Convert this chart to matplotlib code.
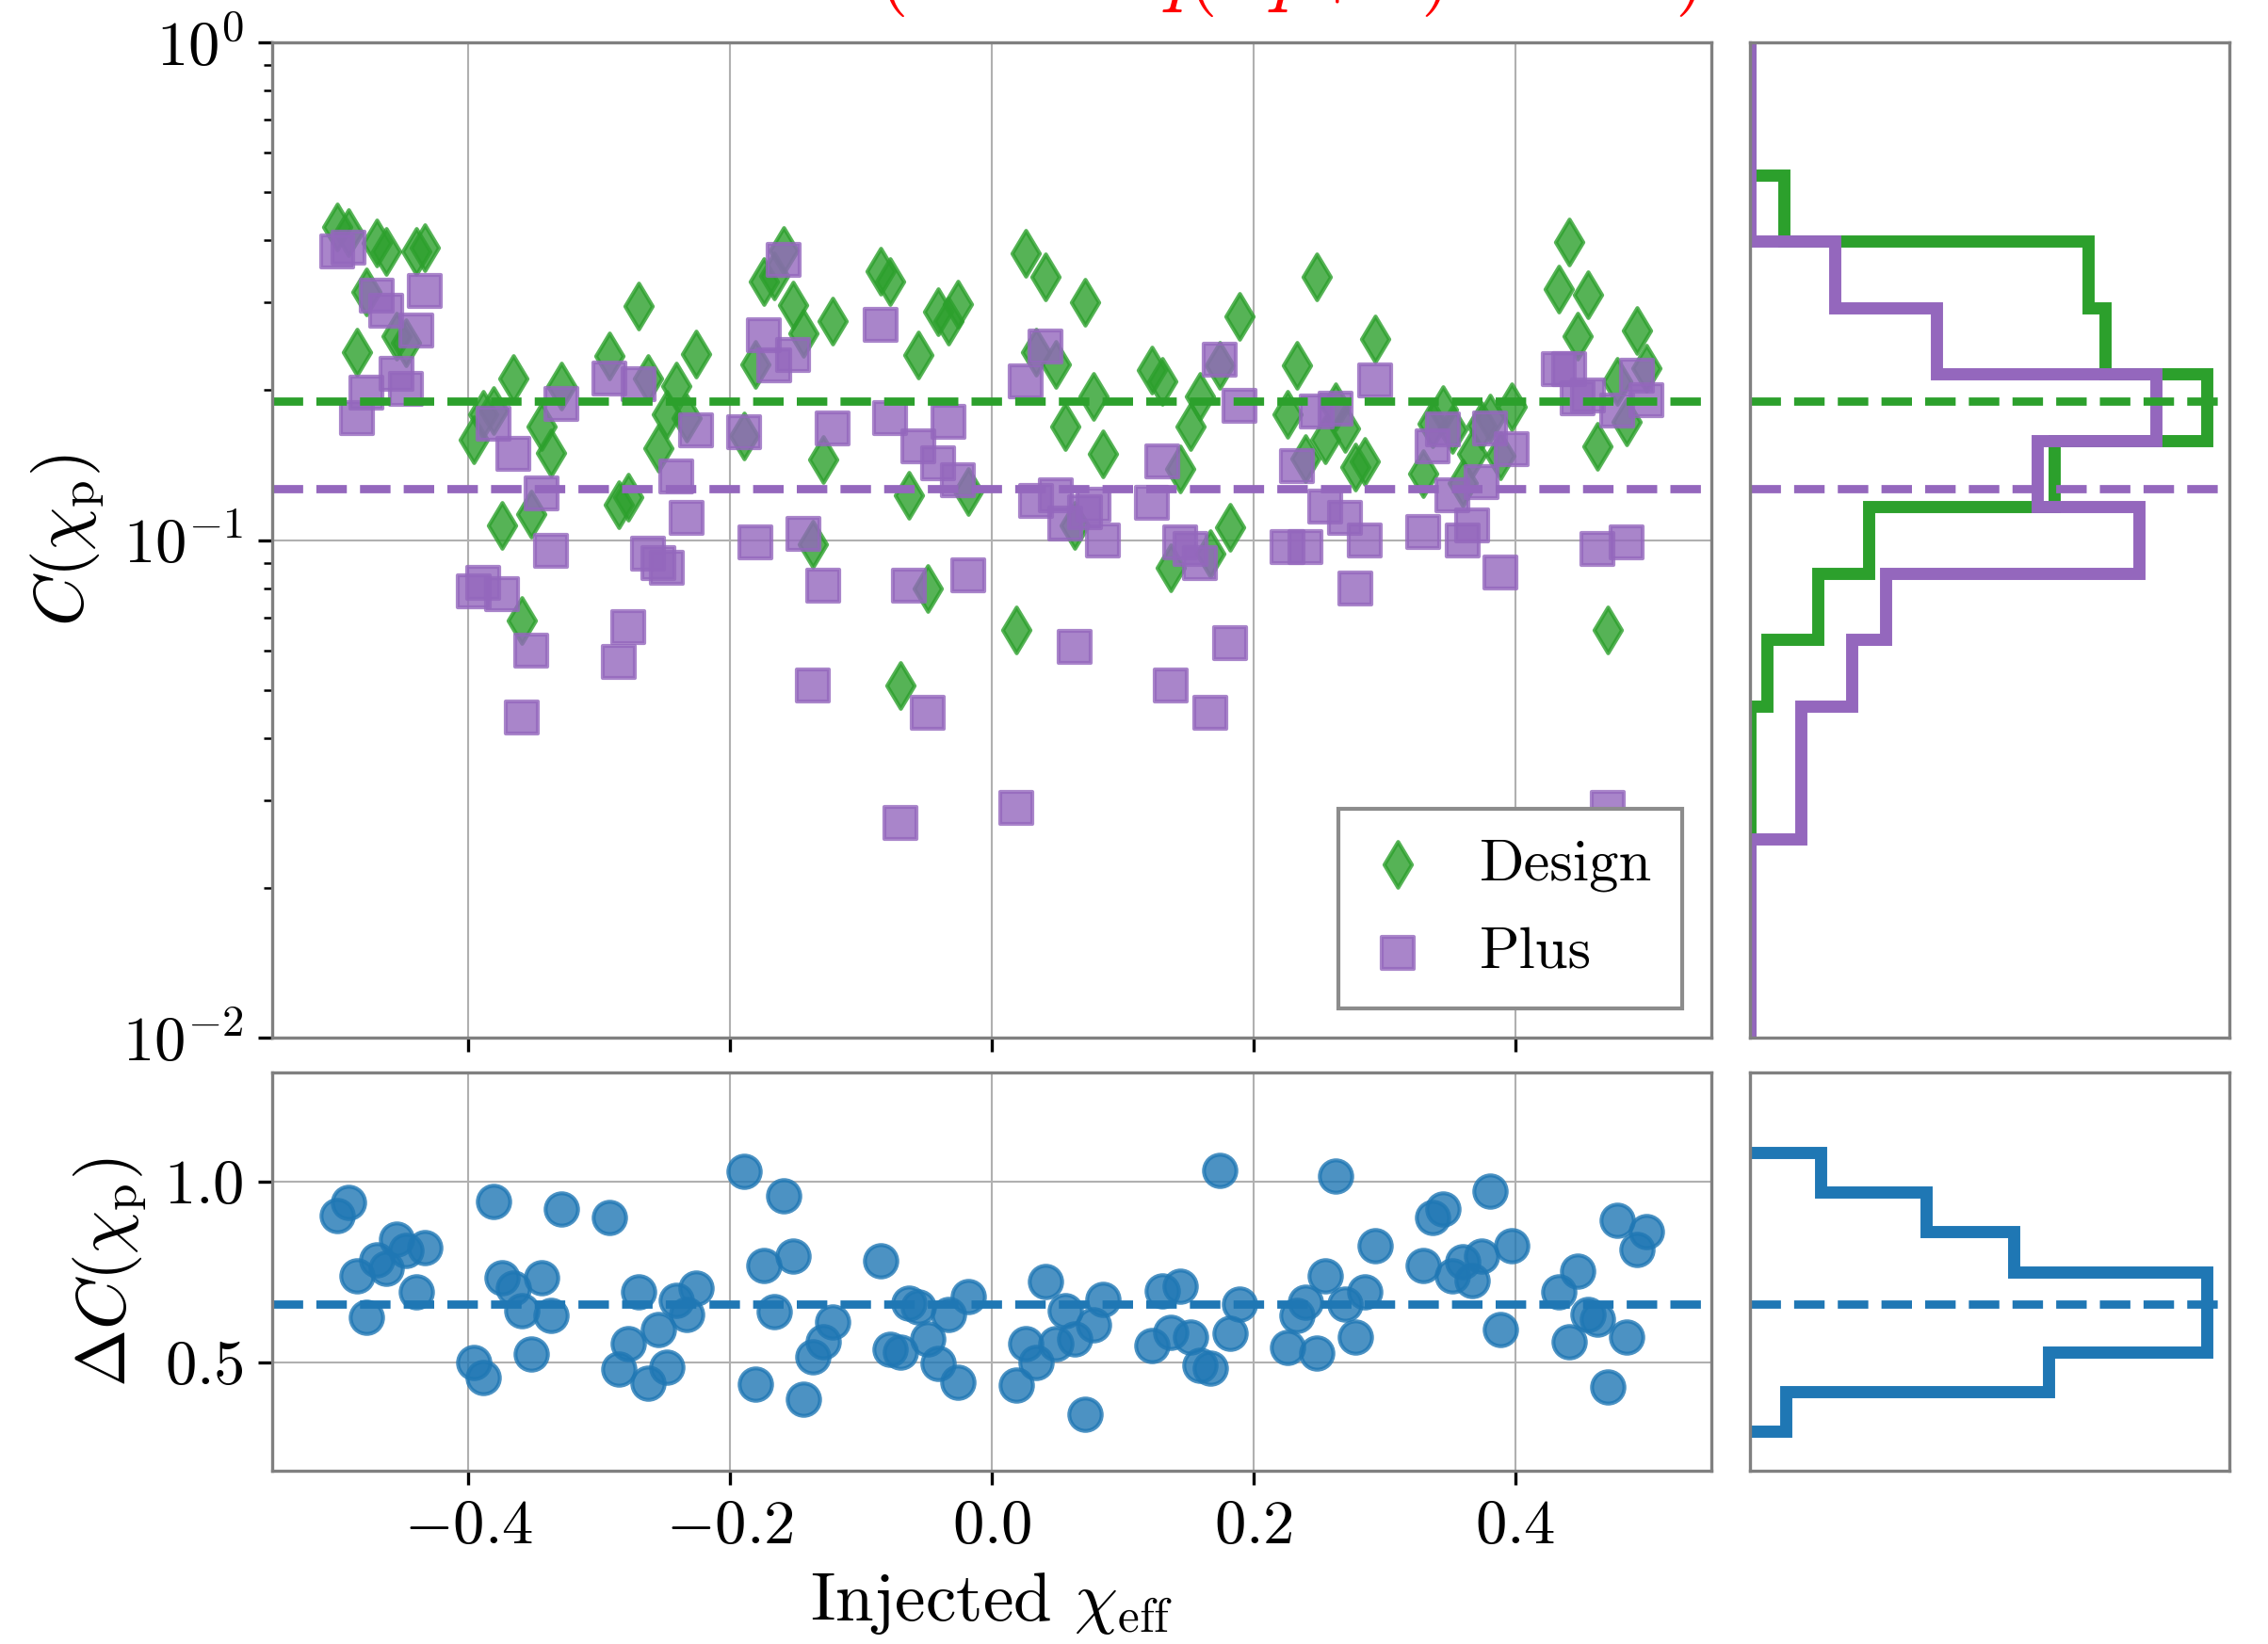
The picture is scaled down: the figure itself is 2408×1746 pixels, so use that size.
import numpy as np
import matplotlib
matplotlib.use('Agg')
import matplotlib.pyplot as plt

plt.rcParams['font.family'] = 'serif'
plt.rcParams['font.serif'] = ['cmr10']
plt.rcParams['mathtext.fontset'] = 'cm'
plt.rcParams['axes.formatter.use_mathtext'] = True

# injected chi_eff, one per injection
x_inj = [-0.500, -0.492, -0.485, -0.478, -0.470, -0.463, -0.455, -0.448, -0.440, -0.433,
         -0.396, -0.389, -0.381, -0.374, -0.366, -0.359, -0.352, -0.344, -0.337, -0.329,
         -0.292, -0.285, -0.278, -0.270, -0.263, -0.255, -0.248, -0.241, -0.233, -0.226,
         -0.189, -0.181, -0.174, -0.166, -0.159, -0.152, -0.144, -0.137, -0.129, -0.122,
         -0.085, -0.078, -0.070, -0.063, -0.056, -0.049, -0.041, -0.033, -0.026, -0.018,
         0.019, 0.026, 0.034, 0.041, 0.049, 0.056, 0.063, 0.071, 0.078, 0.085,
         0.122, 0.130, 0.137, 0.144, 0.152, 0.159, 0.167, 0.174, 0.182, 0.189,
         0.226, 0.233, 0.240, 0.248, 0.255, 0.263, 0.270, 0.278, 0.285, 0.293,
         0.330, 0.337, 0.345, 0.352, 0.360, 0.367, 0.374, 0.381, 0.389, 0.397,
         0.433, 0.441, 0.448, 0.456, 0.463, 0.471, 0.478, 0.485, 0.493, 0.500]

c_design = [0.425, 0.415, 0.239, 0.315, 0.395, 0.380, 0.257, 0.249, 0.380, 0.386,
            0.159, 0.179, 0.182, 0.107, 0.211, 0.069, 0.113, 0.169, 0.150, 0.204,
            0.234, 0.118, 0.122, 0.295, 0.211, 0.153, 0.179, 0.204, 0.176, 0.236,
            0.162, 0.225, 0.331, 0.340, 0.382, 0.296, 0.260, 0.098, 0.145, 0.276,
            0.347, 0.331, 0.051, 0.123, 0.235, 0.080, 0.288, 0.275, 0.298, 0.125,
            0.066, 0.377, 0.239, 0.338, 0.225, 0.169, 0.107, 0.300, 0.194, 0.149,
            0.220, 0.208, 0.088, 0.139, 0.169, 0.194, 0.094, 0.224, 0.106, 0.282,
            0.179, 0.224, 0.146, 0.338, 0.159, 0.185, 0.168, 0.140, 0.144, 0.254,
            0.136, 0.171, 0.183, 0.167, 0.130, 0.149, 0.170, 0.176, 0.148, 0.185,
            0.319, 0.397, 0.257, 0.311, 0.154, 0.066, 0.208, 0.173, 0.264, 0.222]

c_plus = [0.380, 0.386, 0.176, 0.198, 0.310, 0.289, 0.216, 0.201, 0.264, 0.316,
          0.079, 0.082, 0.171, 0.078, 0.149, 0.044, 0.060, 0.124, 0.095, 0.188,
          0.211, 0.057, 0.067, 0.206, 0.094, 0.090, 0.088, 0.134, 0.111, 0.166,
          0.165, 0.099, 0.258, 0.224, 0.366, 0.235, 0.103, 0.051, 0.081, 0.168,
          0.271, 0.176, 0.027, 0.081, 0.154, 0.045, 0.143, 0.173, 0.132, 0.085,
          0.029, 0.208, 0.120, 0.245, 0.123, 0.108, 0.061, 0.114, 0.118, 0.100,
          0.119, 0.144, 0.051, 0.099, 0.096, 0.090, 0.045, 0.230, 0.062, 0.186,
          0.097, 0.141, 0.097, 0.181, 0.117, 0.184, 0.111, 0.080, 0.100, 0.209,
          0.104, 0.154, 0.167, 0.123, 0.100, 0.107, 0.131, 0.168, 0.086, 0.152,
          0.221, 0.221, 0.193, 0.195, 0.096, 0.029, 0.182, 0.099, 0.214, 0.191]

delta_c = [0.905, 0.941, 0.738, 0.625, 0.783, 0.759, 0.841, 0.810, 0.695, 0.817,
           0.500, 0.458, 0.943, 0.733, 0.706, 0.642, 0.523, 0.734, 0.630, 0.923,
           0.901, 0.480, 0.551, 0.694, 0.442, 0.591, 0.486, 0.672, 0.633, 0.704,
           1.028, 0.439, 0.767, 0.641, 0.959, 0.793, 0.398, 0.515, 0.556, 0.612,
           0.780, 0.536, 0.529, 0.662, 0.652, 0.565, 0.497, 0.632, 0.444, 0.682,
           0.437, 0.550, 0.500, 0.722, 0.550, 0.642, 0.565, 0.357, 0.604, 0.674,
           0.545, 0.697, 0.582, 0.710, 0.570, 0.491, 0.483, 1.031, 0.580, 0.661,
           0.542, 0.630, 0.665, 0.526, 0.738, 1.015, 0.661, 0.570, 0.694, 0.823,
           0.767, 0.901, 0.924, 0.738, 0.778, 0.726, 0.793, 0.973, 0.590, 0.821,
           0.694, 0.557, 0.752, 0.633, 0.620, 0.431, 0.893, 0.570, 0.811, 0.862]

# medians (dashed lines)
med_design = 0.190
med_plus = 0.127
med_delta = 0.661

# histogram counts
c_bins = np.logspace(-2, 0, 16)
hist_design = [0, 0, 0, 0, 0, 1, 4, 7, 18, 27, 21, 20, 2, 0, 0]
hist_plus = [0, 0, 0, 3, 3, 6, 8, 23, 17, 24, 11, 5, 0, 0, 0]
d_bins = [0.309, 0.419, 0.529, 0.640, 0.750, 0.860, 0.970, 1.080]
hist_delta = [2, 17, 26, 26, 15, 10, 4]

green = 'tab:green'
purple = 'tab:purple'
blue = 'tab:blue'
label_size = 17.6

fig = plt.figure(figsize=(2408 / 300, 1746 / 300), dpi=300)
ax_top = fig.add_axes([0.1200, 0.3686, 0.6346, 0.6057])
ax_bot = fig.add_axes([0.1200, 0.1054, 0.6346, 0.2421], sharex=ax_top)
ax_ht = fig.add_axes([0.7718, 0.3686, 0.2112, 0.6057])
ax_hb = fig.add_axes([0.7718, 0.1054, 0.2112, 0.2421])

# main scatter
ax_top.scatter(x_inj, c_design, marker='d', s=68, color=green, alpha=0.8, label='Design')
ax_top.scatter(x_inj, c_plus, marker='s', s=68, color=purple, alpha=0.8, label='Plus')
ax_top.axhline(med_design, color=green, ls='--', lw=2.1)
ax_top.axhline(med_plus, color=purple, ls='--', lw=2.1)
ax_top.set_yscale('log')
ax_top.set_ylim(1e-2, 1e0)
ax_top.set_xlim(-0.55, 0.55)
ax_top.set_ylabel(r'$C(\chi_{\rm p})$', fontsize=label_size)
ax_top.tick_params(labelbottom=False)
ax_top.legend(loc='lower right', fontsize=15, fancybox=False, framealpha=1,
              edgecolor='0.55', scatterpoints=1, handlelength=1.0,
              handletextpad=0.9, borderpad=0.5, labelspacing=0.6)

ax_bot.scatter(x_inj, delta_c, marker='o', s=68, color=blue, alpha=0.8)
ax_bot.axhline(med_delta, color=blue, ls='--', lw=2.1)
ax_bot.set_ylim(0.2, 1.3)
ax_bot.set_yticks([0.5, 1.0])
ax_bot.set_xticks([-0.4, -0.2, 0.0, 0.2, 0.4])
ax_bot.set_xlabel(r'Injected $\chi_{\rm eff}$', fontsize=label_size)
ax_bot.set_ylabel(r'$\Delta C(\chi_{\rm p})$', fontsize=label_size)

# side histograms
centers = np.sqrt(c_bins[:-1] * c_bins[1:])
ax_ht.hist(centers, bins=c_bins, weights=hist_design, histtype='step',
           orientation='horizontal', color=green, lw=3.1)
ax_ht.hist(centers, bins=c_bins, weights=hist_plus, histtype='step',
           orientation='horizontal', color=purple, lw=3.1)
ax_ht.axhline(med_design, color=green, ls='--', lw=2.1)
ax_ht.axhline(med_plus, color=purple, ls='--', lw=2.1)
ax_ht.set_yscale('log')
ax_ht.set_ylim(1e-2, 1e0)

d_centers = [(a + b) / 2 for a, b in zip(d_bins[:-1], d_bins[1:])]
ax_hb.hist(d_centers, bins=d_bins, weights=hist_delta, histtype='step',
           orientation='horizontal', color=blue, lw=3.1)
ax_hb.axhline(med_delta, color=blue, ls='--', lw=2.1)
ax_hb.set_ylim(0.2, 1.3)

for ax in [ax_top, ax_bot]:
    ax.grid(True, color='#b0b0b0', lw=0.5)
    ax.set_axisbelow(True)
    ax.tick_params(which='major', labelsize=16, length=3.7, width=0.8, color='k')
    ax.tick_params(which='minor', length=2.2, width=0.6, color='k')
ax_top.grid(False, which='minor')
ax_top.tick_params(axis='x', which='minor', bottom=False)
ax_bot.tick_params(axis='y', which='minor', left=False)

for ax in [ax_ht, ax_hb]:
    ax.tick_params(which='both', left=False, bottom=False, labelleft=False, labelbottom=False)

for ax in [ax_top, ax_bot, ax_ht, ax_hb]:
    for sp in ax.spines.values():
        sp.set_color('0.5')
        sp.set_linewidth(0.8)

# red title sitting almost entirely above the canvas (only descenders show)
fig.text(0.5679, 1 + 3 / 1746, r'$(\mathrm{Scaled}\ q(4q+3)\ \mathrm{factor})$',
         color='red', fontsize=20.2, ha='center', va='baseline')

fig.savefig('out.png', dpi=300)
